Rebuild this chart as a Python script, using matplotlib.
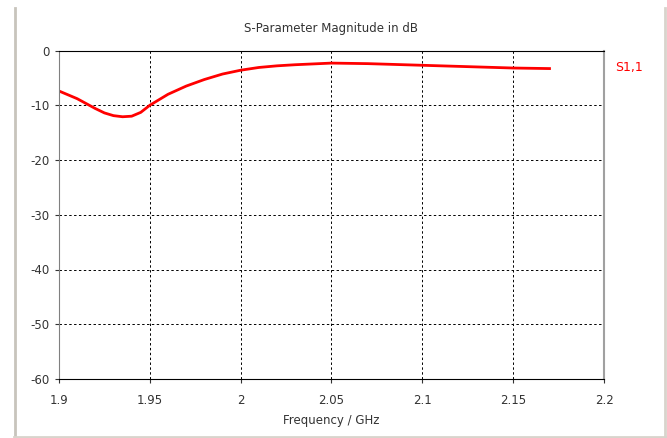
import matplotlib
matplotlib.use("Agg")
import matplotlib.pyplot as plt
from matplotlib.lines import Line2D

# S11 magnitude sweep
freq_ghz = [1.90, 1.91, 1.92, 1.925, 1.93, 1.935, 1.94, 1.945, 1.95, 1.96, 1.97, 1.98, 1.99,
            2.00, 2.01, 2.02, 2.03, 2.05, 2.07, 2.09, 2.10, 2.12, 2.15, 2.17]
s11_db = [-7.4, -8.8, -10.6, -11.4, -11.9, -12.1, -12.0, -11.3, -10.0, -8.0, -6.5, -5.3, -4.3,
          -3.6, -3.1, -2.8, -2.6, -2.3, -2.4, -2.6, -2.7, -2.9, -3.2, -3.3]

x_ticks = [1.9, 1.95, 2.0, 2.05, 2.1, 2.15, 2.2]
x_labels = ["1.9", "1.95", "2", "2.05", "2.1", "2.15", "2.2"]
y_ticks = [0, -10, -20, -30, -40, -50, -60]

plt.rcParams['font.family'] = ['DejaVu Sans']
plt.rcParams['axes.unicode_minus'] = False
fig = plt.figure(figsize=(6.67, 4.38), dpi=100)
ax = fig.add_axes([59 / 667, 1 - 379 / 438, 545 / 667, 328.5 / 438])

ax.plot(freq_ghz, s11_db, color='#ff0000', lw=2)
ax.set_xlim(1.9, 2.2)
ax.set_ylim(-60, 0)
ax.set_xticks(x_ticks)
ax.set_xticklabels(x_labels)
ax.set_yticks(y_ticks)
ax.tick_params(length=3, width=0.8, labelsize=8.5, colors='#333333', pad=4)
ax.tick_params(axis='x', pad=8)
ax.grid(True, color='black', linestyle=(0, (2.5, 2.5)), lw=0.7)

ax.spines['top'].set_color('black')
ax.spines['bottom'].set_color('black')
ax.spines['left'].set_color('#808080')
ax.spines['right'].set_color('#a0a0a0')
ax.spines['right'].set_linewidth(1.5)
for s in ax.spines.values():
    s.set_zorder(3)

ax.set_title("S-Parameter Magnitude in dB", fontsize=8.5, color='#333333', pad=13)
ax.set_xlabel("Frequency / GHz", fontsize=8.5, color='#333333', labelpad=5)
ax.text(1.02, 0.947, "S1,1", transform=ax.transAxes, color='#ff0000',
        fontsize=9, va='center', ha='left')

# window frame around the plot
fig.add_artist(Line2D([14.5 / 667, 14.5 / 667], [1 - 8 / 438, 0], color='#c8c4bc', lw=2))
fig.add_artist(Line2D([665 / 667, 665 / 667], [1 - 8 / 438, 0], color='#d8d4cc', lw=2))
fig.add_artist(Line2D([14 / 667, 665 / 667], [1 / 438, 1 / 438], color='#d8d4cc', lw=2))

fig.savefig("out.png", dpi=100)
